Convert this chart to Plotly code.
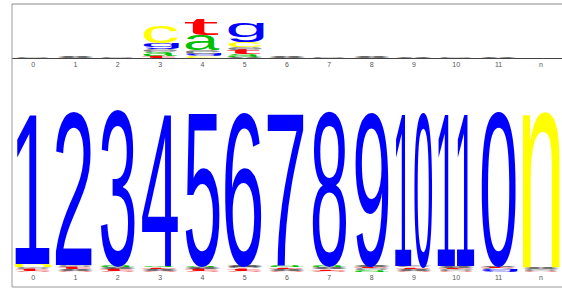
import json
import plotly.graph_objects as go

# ---------------- data ----------------
positions = ["0", "1", "2", "3", "4", "5", "6", "7", "8", "9", "10", "11", "n"]

# upper logo: stacks per position, bottom -> top
top_chars = [
    ["e"], ["x"], ["e"],
    ["t", "a", "e", "g", "c"],
    ["c", "g", "e", "a", "t"],
    ["x", "a", "t", "e", "c", "g"],
    ["x"], ["e"], ["x"], ["x"], ["e"], ["x"], [],
]
top_heights = [
    [0.012], [0.028], [0.012],
    [0.046, 0.074, 0.056, 0.111, 0.320],
    [0.037, 0.037, 0.065, 0.278, 0.305],
    [0.019, 0.050, 0.087, 0.048, 0.093, 0.355],
    [0.028], [0.012], [0.028], [0.018], [0.012], [0.022], [],
]

# lower logo: small stacks per position (bottom -> top), then the main token
low_chars = [
    ["o", "t", "e", "n"],
    ["o", "x", "t", "e"],
    ["o", "t", "x", "a"],
    ["o", "x", "t", "a"],
    ["o", "t", "x", "a"],
    ["o", "t", "e", "x"],
    ["o", "x", "t", "a"],
    ["o", "t", "x", "a"],
    ["a", "e", "t", "x"],
    ["o", "x", "t", "e"],
    ["o", "e", "t", "x"],
    ["g", "e", "t", "x"],
    ["o", "e", "x"],
]
low_heights = [
    [0.007, 0.013, 0.009, 0.015],
    [0.007, 0.009, 0.013, 0.010],
    [0.007, 0.012, 0.010, 0.009],
    [0.007, 0.013, 0.009, 0.008],
    [0.007, 0.012, 0.012, 0.008],
    [0.007, 0.015, 0.009, 0.009],
    [0.007, 0.012, 0.009, 0.009],
    [0.007, 0.010, 0.012, 0.009],
    [0.012, 0.009, 0.009, 0.009],
    [0.007, 0.012, 0.009, 0.009],
    [0.007, 0.009, 0.009, 0.012],
    [0.015, 0.007, 0.009, 0.007],
    [0.007, 0.012, 0.009],
]
main_tokens = ["1", "2", "3", "4", "5", "6", "7", "8", "9", "10", "11", "0", "n"]
main_heights = [0.875, 0.891, 0.898, 0.894, 0.892, 0.885, 0.894, 0.892,
                0.887, 0.888, 0.888, 0.893, 0.920]

# ---------------- style ----------------
colors = {
    "a": "#00C000", "c": "#FFFF00", "g": "#0000FF", "t": "#FF0000",
    "n": "#FFFF00", "x": "#000000", "e": "#808080", "o": "#F08080",
}
digit_color = "#0000FF"
FONT = "Liberation Sans"
GLYPH_W = 0.92

fig = go.Figure()
annotations = []
spec = []


def add_stack(ci, chars, heights, xref, yref):
    base = 0.0
    for ch, h in zip(chars, heights):
        col = colors.get(ch, digit_color)
        annotations.append(dict(
            x=ci, y=base + h / 2, xref=xref, yref=yref, text=ch,
            showarrow=False, xanchor="center", yanchor="middle",
            font=dict(family=FONT, size=20, color=col),
        ))
        spec.append([xref.replace("x", "xaxis"), yref.replace("y", "yaxis"),
                     ci - GLYPH_W / 2, ci + GLYPH_W / 2, base, base + h])
        base += h


for i in range(len(positions)):
    add_stack(i, top_chars[i], top_heights[i], "x", "y")
for i in range(len(positions)):
    add_stack(i, low_chars[i] + [main_tokens[i]], low_heights[i] + [main_heights[i]], "x2", "y2")

# invisible traces to establish axes
fig.add_trace(go.Scatter(x=list(range(len(positions))), y=[0] * len(positions),
                         xaxis="x", yaxis="y", mode="markers",
                         marker=dict(opacity=0), hoverinfo="skip", showlegend=False))
fig.add_trace(go.Scatter(x=list(range(len(positions))), y=[0] * len(positions),
                         xaxis="x2", yaxis="y2", mode="markers",
                         marker=dict(opacity=0), hoverinfo="skip", showlegend=False))

tick_font = dict(family=FONT, size=7, color="#555555")
xcommon = dict(range=[-0.5, len(positions) - 0.5], tickmode="array",
               tickvals=list(range(len(positions))), ticktext=positions,
               showgrid=False, zeroline=False, ticks="", tickfont=tick_font,
               fixedrange=True, domain=[0, 1])
ycommon = dict(range=[0, 1], showgrid=False, zeroline=False,
               showticklabels=False, ticks="", fixedrange=True)

fig.update_layout(
    width=562, height=290,
    margin=dict(l=12, r=0, t=4, b=3),
    paper_bgcolor="white", plot_bgcolor="white",
    showlegend=False,
    xaxis=dict(**xcommon, anchor="y", showline=True, linecolor="#444444", linewidth=1),
    yaxis=dict(**ycommon, domain=[0.8092, 1.0], anchor="x"),
    xaxis2=dict(**xcommon, anchor="y2", showline=False),
    yaxis2=dict(**ycommon, domain=[0.0530, 0.6608], anchor="x2"),
    annotations=annotations,
    shapes=[
        dict(type="line", xref="paper", yref="paper", x0=0, x1=0, y0=0, y1=1,
             line=dict(color="#999999", width=1)),
        dict(type="line", xref="paper", yref="paper", x0=0, x1=1, y0=1, y1=1,
             line=dict(color="#888888", width=1)),
        dict(type="line", xref="paper", yref="paper", x0=0, x1=1, y0=0, y1=0,
             line=dict(color="#999999", width=1)),
    ],
)

post = """
document.body.style.margin = '0';
document.body.style.padding = '0';
document.body.style.overflow = 'hidden';
var gd = document.getElementById('{plot_id}');
var SPEC = __SPEC__;
function fit(){
  var fl = gd._fullLayout;
  var root = gd.querySelector('.main-svg').getBoundingClientRect();
  var cv = document.createElement('canvas').getContext('2d');
  SPEC.forEach(function(s, i){
    var g = gd.querySelector('.annotation[data-index="' + i + '"]');
    if(!g) return;
    var t = g.querySelector('text');
    if(!t) return;
    var xa = fl[s[0]], ya = fl[s[1]];
    var X0 = root.left + xa._offset + xa.l2p(s[2]);
    var X1 = root.left + xa._offset + xa.l2p(s[3]);
    var Yb = root.top + ya._offset + ya.l2p(s[4]);
    var Yt = root.top + ya._offset + ya.l2p(s[5]);
    var m = t.parentNode.getScreenCTM().inverse();
    var p0 = new DOMPoint(X0, Yt).matrixTransform(m);
    var p1 = new DOMPoint(X1, Yb).matrixTransform(m);
    var fs = parseFloat(t.style.fontSize) || 20;
    cv.font = fs + 'px ' + (t.style.fontFamily || 'sans-serif');
    var mm = cv.measureText(t.textContent);
    var L = mm.actualBoundingBoxLeft, R = mm.actualBoundingBoxRight;
    var A = mm.actualBoundingBoxAscent, D = mm.actualBoundingBoxDescent;
    if(!(L + R > 0) || !(A + D > 0)) return;
    var sx = (p1.x - p0.x) / (L + R), sy = (p1.y - p0.y) / (A + D);
    t.setAttribute('x', 0); t.setAttribute('y', 0);
    t.removeAttribute('dy');
    t.setAttribute('text-anchor', 'start');
    t.style.textAnchor = 'start';
    t.setAttribute('transform', 'translate(' + (p0.x + L * sx) + ',' + (p0.y + A * sy) + ') scale(' + sx + ',' + sy + ')');
  });
}
fit();
""".replace("__SPEC__", json.dumps(spec))

fig.write_html("out.html", post_script=post, config={"displayModeBar": False, "staticPlot": True})
